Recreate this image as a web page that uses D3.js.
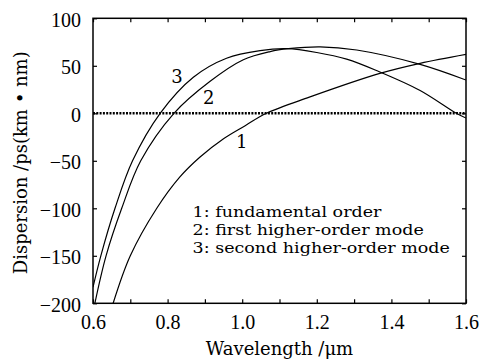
<!DOCTYPE html>
<html>
<head>
<meta charset="utf-8">
<script src="https://cdn.jsdelivr.net/npm/d3@7"></script>
<style>
	body { margin: 0; background: #fff; }
	svg { display: block; }
</style>
</head>
<body>
<div id="chart"></div>
<script>

	// dispersion (ps/(km·nm)) against wavelength (µm)
	const fundamental = [
		[0.654, -200], [0.70, -150], [0.771, -100], [0.833, -67], [0.887, -46],
		[0.949, -27], [1.008, -13], [1.065, 0], [1.18, 17], [1.369, 42],
		[1.477, 52.6], [1.6, 62]
	];

	const firstHigher = [
		[0.605, -200], [0.635, -150], [0.677, -100], [0.728, -50], [0.817, 0],
		[0.914, 33.7], [1.003, 56.4], [1.075, 65], [1.124, 68], [1.209, 70],
		[1.307, 66.6], [1.477, 51.5], [1.6, 35]
	];

	const secondHigher = [
		[0.6, -183], [0.621, -150], [0.659, -100], [0.706, -50], [0.78, 0],
		[0.869, 38], [0.958, 58], [1.048, 66], [1.12, 68], [1.2, 64],
		[1.28, 57], [1.366, 44], [1.477, 24], [1.574, 0], [1.6, -5]
	];

	const curves = [
		{ id: "1", values: fundamental, at: [0.999, -36.8] },
		{ id: "2", values: firstHigher, at: [0.91, 9.8] },
		{ id: "3", values: secondHigher, at: [0.825, 31.9] }
	];

	const legendItems = [
		"1: fundamental order",
		"2: first higher-order mode",
		"3: second higher-order mode"
	];

	const xTicks = [0.6, 0.7, 0.8, 0.9, 1.0, 1.1, 1.2, 1.3, 1.4, 1.5, 1.6];
	const yTicks = [-200, -150, -100, -50, 0, 50, 100];

	const serif = "'Liberation Serif', 'Times New Roman', serif";
	const wideSerif = "'DejaVu Serif', 'Liberation Serif', serif";

	const width = 482, height = 359;
	const margin = { top: 18.3, right: 16, bottom: 55.7, left: 93 };
	const innerW = width - margin.left - margin.right;
	const innerH = height - margin.top - margin.bottom;
	const tickLen = 4;

	const x = d3.scaleLinear().domain([0.6, 1.6]).range([0, innerW]);
	const y = d3.scaleLinear().domain([-200, 100]).range([innerH, 0]);

	const svg = d3.select("#chart")
		.append("svg")
			.attr("width", width)
			.attr("height", height);

	const g = svg.append("g")
		.attr("transform", `translate(${margin.left},${margin.top})`);

	g.append("clipPath")
		.attr("id", "plot-clip")
		.append("rect")
			.attr("width", innerW)
			.attr("height", innerH);

	// axes, all ticks pointing inwards
	const isLabelled = (d) => Math.round(d * 10) % 2 === 0;

	const styleAxis = (sel) => {
		sel.attr("font-family", serif).attr("font-size", 20);
		sel.select(".domain").remove();
		sel.selectAll(".tick line").attr("stroke", "#000").attr("stroke-width", 1.2);
		sel.selectAll(".tick text").attr("fill", "#000");
	};

	g.append("g")
		.attr("transform", `translate(0,${innerH})`)
		.call(d3.axisBottom(x)
			.tickValues(xTicks)
			.tickSize(-tickLen)
			.tickPadding(tickLen + 8)
			.tickFormat((d) => isLabelled(d) ? d3.format(".1f")(d) : ""))
		.call(styleAxis);

	g.append("g")
		.call(d3.axisTop(x).tickValues(xTicks).tickSize(-tickLen).tickFormat(""))
		.call(styleAxis);

	g.append("g")
		.call(d3.axisLeft(y)
			.tickValues(yTicks)
			.tickSize(-tickLen)
			.tickPadding(tickLen + 8)
			.tickFormat((d) => d < 0 ? "\u2212" + Math.abs(d) : d))
		.call(styleAxis)
		.selectAll("text")
			.attr("dy", "0.4em");

	g.append("g")
		.attr("transform", `translate(${innerW},0)`)
		.call(d3.axisRight(y).tickValues(yTicks).tickSize(-tickLen).tickFormat(""))
		.call(styleAxis);

	g.append("rect")
		.attr("width", innerW)
		.attr("height", innerH)
		.attr("fill", "none")
		.attr("stroke", "#000")
		.attr("stroke-width", 1.5);

	// zero-dispersion reference
	g.append("line")
		.attr("x1", 0)
		.attr("x2", innerW)
		.attr("y1", y(0))
		.attr("y2", y(0))
		.attr("stroke", "#000")
		.attr("stroke-width", 2.5)
		.attr("stroke-dasharray", "2 1.3");

	const line = d3.line()
		.x((d) => x(d[0]))
		.y((d) => y(d[1]))
		.curve(d3.curveCatmullRom.alpha(0.5));

	g.append("g")
		.attr("clip-path", "url(#plot-clip)")
		.selectAll("path")
			.data(curves).enter()
		.append("path")
			.attr("d", (d) => line(d.values))
			.attr("fill", "none")
			.attr("stroke", "#000")
			.attr("stroke-width", 1.2);

	g.selectAll(".label")
		.data(curves).enter()
		.append("text")
			.attr("class", "label")
			.attr("x", (d) => x(d.at[0]))
			.attr("y", (d) => y(d.at[1]))
			.attr("text-anchor", "middle")
			.attr("font-family", wideSerif)
			.attr("font-size", 18)
			.text((d) => d.id);

	// legend: slightly smaller face stretched sideways, so the lines keep the
	// original's width without their boxes running into each other
	const legendSize = 15.5;
	const legendStep = 18.1;

	const legend = g.append("text")
		.attr("class", "legend")
		.attr("transform", `translate(${innerW * 0.267},${innerH * 0.6968})scale(1.13,1)`)
		.attr("font-family", wideSerif)
		.attr("font-size", legendSize);

	legend.selectAll("tspan")
		.data(legendItems).enter()
		.append("tspan")
			.attr("x", 0)
			.attr("y", (d, i) => i * legendStep)
			.text((d) => d);

	svg.append("text")
		.attr("x", margin.left + innerW / 2)
		.attr("y", 355)
		.attr("text-anchor", "middle")
		.attr("font-family", wideSerif)
		.attr("font-size", 18)
		.text("Wavelength /\u03bcm");

	svg.append("text")
		.attr("transform", `translate(26.5,${margin.top + innerH / 2 + 2})rotate(-90)`)
		.attr("text-anchor", "middle")
		.attr("font-family", wideSerif)
		.attr("font-size", 18)
		.text("Dispersion /ps(km \u2022 nm)");

</script>
</body>
</html>
